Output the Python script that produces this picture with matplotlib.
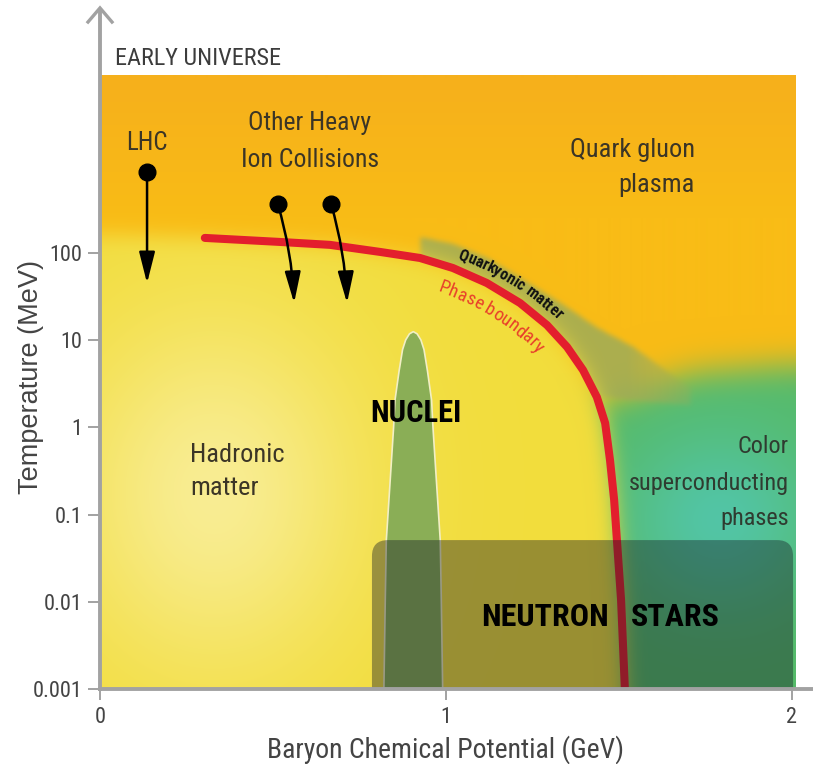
import numpy as np
import matplotlib
matplotlib.use("Agg")
import matplotlib.pyplot as plt
from matplotlib.path import Path
from matplotlib.patches import FancyBboxPatch
from matplotlib.transforms import IdentityTransform
from matplotlib.ticker import NullLocator
from matplotlib.textpath import text_to_path
from matplotlib import font_manager as fm

# ---------------------------------------------------------------- data
# Phase boundary (baryon chemical potential in GeV, temperature in MeV)
boundary_mu = [0.303, 0.520, 0.665, 0.809, 0.925, 1.020, 1.118, 1.214, 1.292,
               1.350, 1.396, 1.436, 1.460, 1.474, 1.486, 1.494, 1.506, 1.517]
boundary_T = [149, 134, 124, 103, 87.7, 67.3, 45.3, 26.7, 14.9,
              8.36, 4.55, 2.23, 1.12, 0.423, 0.147, 0.051, 0.0105, 0.001]

# Upper edge of the quarkyonic matter band
quarkyonic_mu = [0.925, 1.020, 1.118, 1.214, 1.338, 1.436, 1.540, 1.639, 1.705, 1.705]
quarkyonic_T = [152, 127, 87.7, 51.6, 25.4, 13.8, 8.36, 4.31, 2.83, 1.8]

# Upper edge of the colour superconducting region
csc_mu = [1.20, 1.46, 1.72, 2.10]
csc_T = [2.06, 2.06, 4.3, 5.6]

# Nuclei: centre and half width at several temperatures
nuclei_mu0 = 0.904
nuclei_T = [0.001, 0.0105, 0.051, 0.32, 1.0, 2.06, 4.5, 7.9, 10.2, 12.0, 12.7]
nuclei_halfwidth = [0.085, 0.081, 0.078, 0.065, 0.057, 0.053, 0.041, 0.031,
                    0.022, 0.011, 0.0]

# Neutron stars
neutron_mu = [0.786, 2.003]
neutron_T_max = 0.051

# Collision trajectories (start, end)
lhc_mu = [0.136, 0.136]
lhc_T = [849, 45]
hic_mu = [[0.514, 0.561], [0.668, 0.714]]
hic_T = [[365, 26.7], [365, 26.7]]

yticks = [0.001, 0.01, 0.1, 1, 10, 100]
ytick_labels = ["0.001", "0.01", "0.1", "1", "10", "100"]
xticks = [0, 1, 2]
xtick_labels = ["0", "1", "2"]

# ---------------------------------------------------------------- fonts
avail = {f.name for f in fm.fontManager.ttflist}
NARROW = next((n for n in ["Liberation Sans Narrow", "Roboto Condensed",
                           "Open Sans Condensed", "Liberation Sans"] if n in avail),
              "DejaVu Sans")
REGULAR = "Liberation Sans" if "Liberation Sans" in avail else "DejaVu Sans"

TXT = "#3b3526"
AXIS_GRAY = "#a2a2a2"

# ---------------------------------------------------------------- figure
W, H = 813, 764
fig = plt.figure(figsize=(W / 100, H / 100), dpi=100)
fig.patch.set_facecolor("white")

rect = [100 / W, 75 / H, 713 / W, 679 / H]
x_max = 2.0607
lt_min, lt_max = -3.0, 4.787
mu_right, lt_top = 2.0087, 4.041

# ---------------------------------------------------------------- background shading
MU_PX, DEC_PX = 346.0, 87.2
nx = int(round(mu_right * MU_PX))
ny = int(round((lt_top - lt_min) * DEC_PX))
mu_c = (np.arange(nx) + 0.5) / MU_PX
lt_c = lt_top - (np.arange(ny) + 0.5) / DEC_PX
MU, LT = np.meshgrid(mu_c, lt_c)
grid_pts = np.column_stack([MU.ravel(), LT.ravel()])


def blur(a, sigma):
    r = int(3 * sigma) + 1
    k = np.exp(-0.5 * (np.arange(-r, r + 1) / sigma) ** 2)
    k /= k.sum()
    a = np.pad(a, r, mode="edge")
    a = np.apply_along_axis(np.convolve, 0, a, k, mode="valid")
    a = np.apply_along_axis(np.convolve, 1, a, k, mode="valid")
    return a


def region(mu, lt, sigma):
    m = Path(np.column_stack([mu, lt])).contains_points(grid_pts)
    return blur(m.reshape(ny, nx).astype(float), sigma)


def mix(base, col, w):
    col = np.asarray(col, dtype=float)
    return base * (1 - w[..., None]) + col * w[..., None]


b_mu = np.asarray(boundary_mu)
b_lt = np.log10(boundary_T)

# hadronic side of the boundary
had_mu = np.r_[-0.3, b_mu, 1.53, -0.3]
had_lt = np.r_[2.25, b_lt, -3.8, -3.8]
Hm = region(had_mu, had_lt, 10)

# colour superconducting side
csc_poly_mu = np.r_[csc_mu, 2.2, 1.2]
csc_poly_lt = np.r_[np.log10(csc_T), -3.8, -3.8]
Gm = region(csc_poly_mu, csc_poly_lt, 16)

# quarkyonic band between its upper edge and the phase boundary
sel = (b_mu >= 0.92) & (b_mu <= 1.44)
qb_mu = np.r_[quarkyonic_mu, b_mu[sel][::-1]]
qb_lt = np.r_[np.log10(quarkyonic_T), b_lt[sel][::-1]]
Bm = region(qb_mu, qb_lt, 2.5) * np.clip((1.80 - MU) / 0.28, 0, 1)

orange_top = np.array([246, 176, 28]) / 255
orange_low = np.array([249, 188, 22]) / 255
yellow = np.array([242, 221, 60]) / 255
cream = np.array([251, 243, 180]) / 255
green = np.array([86, 186, 104]) / 255
teal = np.array([82, 198, 172]) / 255
band = np.array([158, 172, 88]) / 255

img = np.empty((ny, nx, 3))
img[:] = orange_low
img = mix(img, orange_top, np.clip((LT - 2.4) / 1.6, 0, 1))
teal_w = 0.9 * np.exp(-0.5 * ((MU - 1.79) / 0.2) ** 2 - 0.5 * ((LT + 1.06) / 0.75) ** 2)
gcol = green * (1 - teal_w[..., None]) + teal * teal_w[..., None]
img = mix(img, gcol, Gm)
img = mix(img, band, 0.85 * Bm)
img = mix(img, yellow, Hm)
glow = 0.72 * np.exp(-0.5 * ((MU - 0.33) / 0.30) ** 2 - 0.5 * ((LT + 0.75) / 1.45) ** 2) * Hm
img = mix(img, cream, glow)
img = np.clip(img, 0, 1)

bg = fig.add_axes(rect, zorder=0)
bg.imshow(img, extent=[0, mu_right, lt_min, lt_top], origin="upper",
          aspect="auto", interpolation="bilinear")
bg.set_xlim(0, x_max)
bg.set_ylim(lt_min, lt_max)
bg.axis("off")

# ---------------------------------------------------------------- main axes
ax = fig.add_axes(rect, zorder=1)
ax.set_facecolor("none")
ax.set_yscale("log")
ax.set_xlim(0, x_max)
ax.set_ylim(10 ** lt_min, 10 ** lt_max)

for side in ["top", "right"]:
    ax.spines[side].set_visible(False)
for side in ["left", "bottom"]:
    ax.spines[side].set_color(AXIS_GRAY)
    ax.spines[side].set_linewidth(2.8)
    ax.spines[side].set_zorder(7)

ax.set_yticks(yticks)
ax.set_yticklabels(ytick_labels, fontsize=16, family=NARROW, color="#444444")
ax.yaxis.set_minor_locator(NullLocator())
ax.set_xticks(xticks)
ax.set_xticklabels(xtick_labels, fontsize=16, family=NARROW, color="#444444")
ax.tick_params(axis="y", length=8.5, width=1.4, color=AXIS_GRAY, pad=4)
ax.tick_params(axis="x", length=8, width=1.4, color=AXIS_GRAY, pad=5)

# arrow head on the temperature axis
ax.plot([-12 / 713, 0, 12 / 713], [0.9823, 1.003, 0.9823], transform=ax.transAxes,
        clip_on=False, color=AXIS_GRAY, lw=2.4, solid_joinstyle="miter", zorder=7)

# nuclei
mu0 = nuclei_mu0
hw = np.asarray(nuclei_halfwidth)
ax.fill_betweenx(nuclei_T, mu0 - hw, mu0 + hw, facecolor="#8aae56",
                 edgecolor="#f2efc4", lw=1.2, zorder=2)

# phase boundary
ax.plot(boundary_mu, boundary_T, color="#e31e2d", lw=5.8,
        solid_capstyle="round", solid_joinstyle="round", zorder=3)

# collision trajectories
def trajectory(mu, T, rad):
    ax.annotate("", xy=(mu[1], T[1]), xytext=(mu[0], T[0]),
                arrowprops=dict(arrowstyle="-|>,head_length=0.95,head_width=0.24",
                                mutation_scale=20, lw=1.8, color="black",
                                shrinkA=0, shrinkB=0,
                                connectionstyle=f"arc3,rad={rad}"), zorder=4)
    ax.plot(mu[0], T[0], "o", ms=12, color="black", zorder=4)


trajectory(lhc_mu, lhc_T, 0.0)
for m, t in zip(hic_mu, hic_T):
    trajectory(m, t, -0.06)

# neutron stars box (drawn in pixel space so its corners stay round)
p0 = ax.transData.transform((neutron_mu[0], neutron_T_max))
p1 = ax.transData.transform((neutron_mu[1], 10 ** lt_min))
box = FancyBboxPatch((p0[0], p1[1] - 40), p1[0] - p0[0], p0[1] - p1[1] + 40,
                     boxstyle="round,pad=0,rounding_size=16",
                     transform=IdentityTransform(), facecolor=(0.08, 0.10, 0.14),
                     alpha=0.4, edgecolor="none", zorder=5)
ax.add_patch(box)

# ---------------------------------------------------------------- labels
def label(mu, T, s, size, ha="left", weight="normal", color=TXT, family=NARROW):
    ax.text(mu, T, s, fontsize=size, ha=ha, va="baseline", weight=weight,
            color=color, family=family, zorder=6)


label(0.0434, 14300, "EARLY UNIVERSE", 17.5, color="#3c3c3c")
label(0.136, 1517, "LHC", 18, ha="center")
label(0.607, 2576, "Other Heavy", 18.5, ha="center")
label(0.607, 968, "Ion Collisions", 18.5, ha="center")
label(1.720, 1262, "Quark gluon", 19, ha="right")
label(1.720, 501, "plasma", 19, ha="right")
label(0.260, 0.401, "Hadronic", 19)
label(0.260, 0.168, "matter", 19)
label(0.913, 1.153, "NUCLEI", 22, ha="center", weight="bold", color="black")
label(1.286, 0.00527, "NEUTRON", 23, ha="center", weight="bold", color="black")
label(1.662, 0.00527, "STARS", 23, ha="center", weight="bold", color="black")
label(1.991, 0.508, "Color", 17.5, ha="right", color="#2f3b30")
label(1.991, 0.191, "superconducting", 17.5, ha="right", color="#2f3b30")
label(1.991, 0.076, "phases", 17.5, ha="right", color="#2f3b30")


def advances(s, fp):
    """Pen position (in pixels) after each character of s."""
    def width(t):
        return text_to_path.get_text_width_height_descent(t, fp, ismath=False)[0]
    ref = width("XX")
    return np.array([width("X" + s[:i + 1] + "X") - ref for i in range(len(s))]) * fig.dpi / 72


def text_along(s, offset, x_start, size, color, family, weight="normal"):
    P = ax.transData.transform(np.column_stack([boundary_mu, boundary_T]))
    seg = np.hypot(*np.diff(P, axis=0).T)
    cum = np.r_[0, np.cumsum(seg)]
    t = np.arange(0, cum[-1], 1.0)
    D = np.column_stack([np.interp(t, cum, P[:, 0]), np.interp(t, cum, P[:, 1])])
    d = np.gradient(D, axis=0)
    k = np.ones(41) / 41
    dx = np.convolve(np.pad(d[:, 0], 20, mode="edge"), k, "valid")
    dy = np.convolve(np.pad(d[:, 1], 20, mode="edge"), k, "valid")
    n = np.hypot(dx, dy)
    dx, dy = dx / n, dy / n
    Q = D + offset * np.column_stack([-dy, dx])
    qs = np.r_[0, np.cumsum(np.hypot(*np.diff(Q, axis=0).T))]
    ang = np.degrees(np.arctan2(dy, dx))
    s0 = qs[np.argmax(Q[:, 0] >= x_start)]
    fp = fm.FontProperties(family=family, weight=weight, size=size)
    ends = advances(s, fp)
    starts = np.r_[0, ends[:-1]]
    pos = s0 + (starts + ends) / 2
    for c, p in zip(s, pos):
        if c == " ":
            continue
        ax.text(np.interp(p, qs, Q[:, 0]), np.interp(p, qs, Q[:, 1]), c,
                transform=IdentityTransform(), rotation=np.interp(p, qs, ang),
                rotation_mode="anchor", ha="center", va="baseline",
                fontsize=size, family=family, weight=weight, color=color, zorder=6)


text_along("Quarkyonic matter", 11, 457, 11.5, "#111111", NARROW, "bold")
text_along("Phase boundary", -27, 437, 13.5, "#e8402a", NARROW)

fig.text(31 / W, 1 - 377 / H, "Temperature (MeV)", rotation=90, ha="center",
         va="center", fontsize=19.5, family=REGULAR, color="#444444")
fig.text(445 / W, 1 - 750 / H, "Baryon Chemical Potential (GeV)", ha="center",
         va="center", fontsize=20, family=NARROW, color="#444444")

fig.savefig("out.png", dpi=100, facecolor="white")
